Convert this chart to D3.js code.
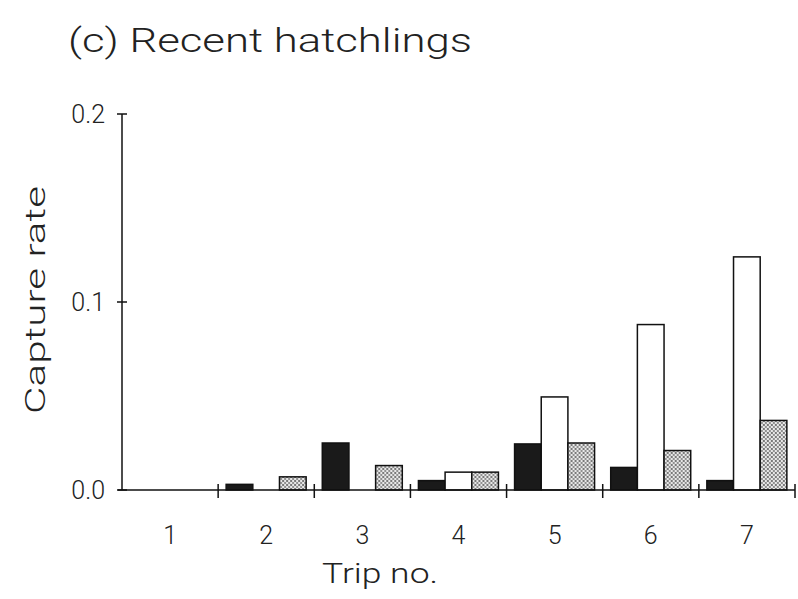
<html>
<head>
    <meta charset="utf-8" />
    <script src="https://cdn.jsdelivr.net/npm/d3@7/dist/d3.min.js"></script>
</head>
<style>
    body { margin: 0; background: #fff; }
    svg { font-family: Roboto, "DejaVu Sans", sans-serif; font-weight: 300; }
    .lbl { fill: #222; }
</style>
<body>
    <svg id="chart" width="798" height="599"></svg>
    <script>
        // trips and the three series (dark, open, stippled)
        var trips = ["1", "2", "3", "4", "5", "6", "7"];
        var seriesKeys = ["dark", "open", "stipple"];
        var darkVals = [0, 0.003, 0.025, 0.005, 0.0245, 0.012, 0.005];
        var openVals = [0, 0, 0, 0.0095, 0.0495, 0.088, 0.124];
        var stippleVals = [0, 0.007, 0.013, 0.0095, 0.025, 0.021, 0.037];
        var yTicks = [0.0, 0.1, 0.2];

        var svg = d3.select("#chart");

        var defs = svg.append("defs");
        var pat = defs.append("pattern")
            .attr("id", "dots")
            .attr("width", 4).attr("height", 4)
            .attr("patternUnits", "userSpaceOnUse");
        pat.append("rect").attr("width", 4).attr("height", 4).attr("fill", "#e8e8e8");
        pat.append("circle").attr("cx", 1).attr("cy", 1).attr("r", 0.9).attr("fill", "#444");
        pat.append("circle").attr("cx", 3).attr("cy", 3).attr("r", 0.9).attr("fill", "#666");

        var x0 = d3.scaleBand().domain(trips).range([122, 795]);
        var x1 = d3.scaleBand().domain(seriesKeys).range([8, 88]);
        var y = d3.scaleLinear().domain([0, 0.2]).range([490, 114]);

        var rows = trips.map(function(t, i) {
            return { trip: t, vals: [darkVals[i], openVals[i], stippleVals[i]] };
        });

        var fills = { dark: "#1a1a1a", open: "#fff", stipple: "url(#dots)" };

        // bars
        var g = svg.append("g").selectAll("g")
            .data(rows)
            .enter()
            .append("g")
            .attr("transform", function(d) { return "translate(" + x0(d.trip) + ",0)"; });

        g.selectAll("rect")
            .data(function(d) {
                return seriesKeys.map(function(k, j) { return { key: k, v: d.vals[j] }; })
                    .filter(function(e) { return e.v > 0; });
            })
            .enter()
            .append("rect")
            .attr("x", function(d) { return x1(d.key); })
            .attr("width", x1.bandwidth())
            .attr("y", function(d) { return y(d.v); })
            .attr("height", function(d) { return y(0) - y(d.v); })
            .attr("fill", function(d) { return fills[d.key]; })
            .attr("stroke", "#111")
            .attr("stroke-width", 1.5);

        // y axis
        svg.append("line")
            .attr("x1", 122).attr("x2", 122)
            .attr("y1", y(0.2)).attr("y2", y(0))
            .attr("stroke", "#111").attr("stroke-width", 1.5);
        svg.selectAll(".ytick").data(yTicks).enter().append("line")
            .attr("x1", 117).attr("x2", 127)
            .attr("y1", function(d) { return y(d); })
            .attr("y2", function(d) { return y(d); })
            .attr("stroke", "#111").attr("stroke-width", 1.5);
        svg.selectAll(".ylab").data(yTicks).enter().append("text")
            .attr("class", "lbl")
            .attr("x", 105)
            .attr("y", function(d) { return y(d) + 9; })
            .attr("text-anchor", "end")
            .attr("font-size", 25)
            .text(function(d) { return d3.format(".1f")(d); });

        // x axis
        svg.append("line")
            .attr("x1", 118).attr("x2", 795)
            .attr("y1", y(0)).attr("y2", y(0))
            .attr("stroke", "#111").attr("stroke-width", 1.5);
        svg.selectAll(".xtick").data(trips.slice(1).concat(["end"])).enter().append("line")
            .attr("x1", function(d) { return d === "end" ? 795 : x0(d); })
            .attr("x2", function(d) { return d === "end" ? 795 : x0(d); })
            .attr("y1", y(0) - 6).attr("y2", y(0) + 8)
            .attr("stroke", "#111").attr("stroke-width", 1.5);
        svg.selectAll(".xlab").data(trips).enter().append("text")
            .attr("class", "lbl")
            .attr("x", function(d) { return x0(d) + x0.bandwidth() / 2; })
            .attr("y", 544)
            .attr("text-anchor", "middle")
            .attr("font-size", 25)
            .text(function(d) { return d; });

        // titles
        svg.append("text").attr("class", "lbl")
            .attr("x", 68).attr("y", 52)
            .attr("font-size", 33)
            .attr("textLength", 404).attr("lengthAdjust", "spacingAndGlyphs")
            .text("(c) Recent hatchlings");
        svg.append("text").attr("class", "lbl")
            .attr("transform", "translate(45,300) rotate(-90)")
            .attr("text-anchor", "middle")
            .attr("font-size", 28)
            .attr("textLength", 228).attr("lengthAdjust", "spacingAndGlyphs")
            .text("Capture rate");
        svg.append("text").attr("class", "lbl")
            .attr("x", 380).attr("y", 583)
            .attr("text-anchor", "middle")
            .attr("font-size", 28)
            .attr("textLength", 116).attr("lengthAdjust", "spacingAndGlyphs")
            .text("Trip no.");
    </script>
</body>
</html>
